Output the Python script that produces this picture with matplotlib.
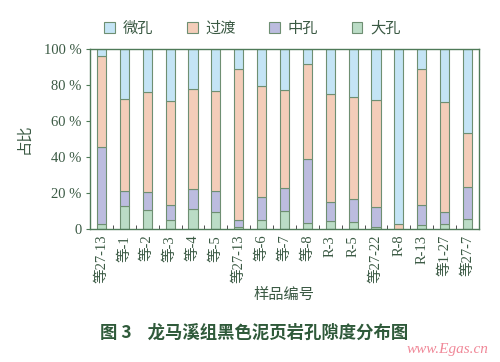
import matplotlib
matplotlib.use('Agg')
import matplotlib.pyplot as plt
import numpy as np

samples = ['等27-13', '等-1', '等-2', '等-3', '等-4', '等-5', '等27-13', '等-6', '等-7',
           '等-8', 'R-3', 'R-5', '等27-22', 'R-8', 'R-13', '等1-27', '等27-7']
# percent of each pore class per sample
large = [2.8, 12.9, 10.5, 5.2, 11.1, 9.6, 1.3, 5.4, 10.0, 3.7, 4.8, 4.3, 1.1, 0.0, 2.6, 3.0, 5.5]
meso = [43.0, 8.5, 10.4, 8.1, 11.1, 11.5, 3.7, 12.3, 12.7, 35.3, 10.2, 12.3, 11.5, 0.0, 11.1, 6.8, 18.2]
trans = [50.5, 50.9, 55.4, 57.9, 55.8, 55.8, 84.1, 61.6, 54.6, 52.7, 59.9, 56.6, 58.9, 3.0, 75.0, 60.8, 29.9]
micro = [3.7, 27.7, 23.7, 28.8, 22.0, 23.1, 10.9, 20.7, 22.7, 8.3, 25.1, 26.8, 28.5, 97.0, 11.3, 29.4, 46.4]

series_names = ['微孔', '过渡', '中孔', '大孔']
colours = {'微孔': '#c4e4f5', '过渡': '#f4cdb9', '中孔': '#bcbcdf', '大孔': '#bbdcc6'}

text_col = '#3b5a44'
line_col = '#4f7a58'
serif_cjk = ['Liberation Serif', 'Noto Sans CJK SC']

plt.rcParams['font.family'] = serif_cjk

fig = plt.figure(figsize=(5.0, 3.62), dpi=100)
ax = fig.add_axes([0.18, 0.3666, 0.778, 0.498])

x = np.arange(len(samples))
w = 0.4
bottom = np.zeros(len(samples))
handles = {}
for name, vals in [('大孔', large), ('中孔', meso), ('过渡', trans), ('微孔', micro)]:
    vals = np.array(vals)
    b = ax.bar(x, vals, w, bottom=bottom, color=colours[name],
               edgecolor='#6e8f72', linewidth=0.8)
    handles[name] = b
    bottom = bottom + vals

ax.set_xlim(-0.5, len(samples) - 0.5)
ax.set_ylim(0, 100)
ax.set_yticks(np.arange(0, 101, 20))
ax.set_yticklabels(['0'] + ['%d %%' % v for v in range(20, 101, 20)],
                   fontsize=10.5, color=text_col, family=serif_cjk)
ax.tick_params(axis='y', direction='out', length=3, color=line_col, pad=3)
ax.set_xticks(x)
ax.set_xticklabels(samples, rotation=90, fontsize=10.5, color=text_col, family=serif_cjk)
ax.tick_params(axis='x', length=0, pad=4)
ax.set_xticks(np.arange(0.5, len(samples) - 1, 1), minor=True)
ax.tick_params(axis='x', which='minor', direction='in', length=3, color='#333333')
for sp in ax.spines.values():
    sp.set_color(line_col)
    sp.set_linewidth(1.0)

ax.set_ylabel('占比', fontsize=11, color=text_col, family=['Noto Sans CJK SC'], labelpad=8)
ax.set_xlabel('样品编号', fontsize=11, color=text_col, family=['Noto Sans CJK SC'], labelpad=2)

fig.legend([handles[n] for n in series_names], series_names, loc='center',
           bbox_to_anchor=(0.505, 0.922), ncol=4, frameon=False,
           handlelength=0.7, handleheight=0.7, columnspacing=2.2, handletextpad=0.5,
           labelcolor=text_col, prop={'family': 'Noto Sans CJK SC', 'size': 11})

fig.text(0.508, 0.08, '图 3    龙马溪组黑色泥页岩孔隙度分布图', ha='center', va='center',
         fontsize=12.5, fontweight='bold', color='#2f5a3a', family=['Noto Sans CJK SC'])
fig.text(0.895, 0.035, 'www.Egas.cn', ha='center', va='center', fontsize=11,
         style='italic', color='#f08898', family=['Liberation Serif'])

fig.savefig('out.png', dpi=100)
